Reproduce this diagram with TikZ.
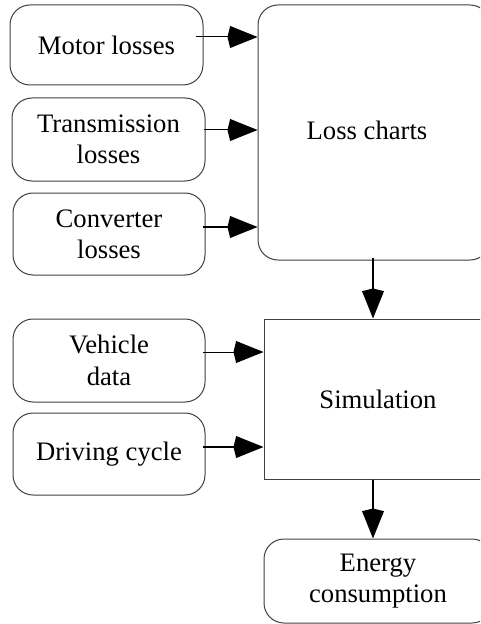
\documentclass[tikz,border=0pt]{standalone}
\usepackage{fontspec}
\setmainfont{Liberation Serif}
\usetikzlibrary{arrows.meta,calc}
\begin{document}
\begin{tikzpicture}[x=0.75pt,y=-0.75pt,
  box/.style={draw=black!75,line width=0.75pt,rounded corners=15pt,align=center,
    inner sep=0pt,font=\fontsize{20}{23.5}\selectfont},
  sqbox/.style={box,rounded corners=0pt},
  txt/.style={inner sep=0pt,font=\fontsize{20}{23.5}\selectfont},
  arr/.style={line width=0.75pt,-{Kite[length=22.5pt,width=16.5pt,inset=2pt]}},
  tarr/.style={arr,line width=2.2pt}]
\clip (0,0) rectangle (480,624);
\fill[white] (0,0) rectangle (480,624);
% left boxes
\node[box,minimum width=144.75pt,minimum height=60pt] (motor) at (106.5,45) {Motor losses};
\node[box,minimum width=144.75pt,minimum height=62.25pt] (trans) at (108.5,139.5) {Transmission\\losses};
\node[box,minimum width=144pt,minimum height=61.5pt] (conv) at (109,234) {Converter\\losses};
\node[box,minimum width=144pt,minimum height=62.25pt] (veh) at (109,360.5) {Vehicle\\data};
\node[box,minimum width=144pt,minimum height=61.5pt] (drive) at (109,454) {Driving cycle};
% right boxes
\node[box,minimum width=174pt,minimum height=191.25pt] (loss) at (374,132.5) {};
\node[txt] (losstxt) at (367,130) {Loss charts};
\node[sqbox,minimum width=171pt,minimum height=120pt] (sim) at (378,399) {Simulation};
\node[box,minimum width=171pt,minimum height=63pt] (energy) at (378,581) {Energy\\consumption};
% connectors
\coordinate (m0) at ($(motor.east)+(-8,-8)$);
\draw[arr] (m0) -- (m0 -| loss.west);
\coordinate (t0) at ($(trans.east)+(-2,-9.5)$);
\draw[arr] (t0) -- (t0 -| loss.west);
\coordinate (c0) at ($(conv.east)+(-3,-7)$);
\draw[tarr] (c0) -- (c0 -| loss.west);
\coordinate (v0) at ($(veh.east)+(-3,-8.5)$);
\draw[arr] (v0) -- (v0 -| sim.west);
\coordinate (d0) at ($(drive.east)+(-3,-7)$);
\draw[tarr] (d0) -- (d0 -| sim.west);
\coordinate (l0) at ($(loss.south)+(-1,-3)$);
\draw[tarr] (l0) -- (l0 |- sim.north);
\coordinate (s0) at ($(sim.south)+(-5,0)$);
\draw[tarr] (s0) -- (s0 |- energy.north);
\end{tikzpicture}
\end{document}
